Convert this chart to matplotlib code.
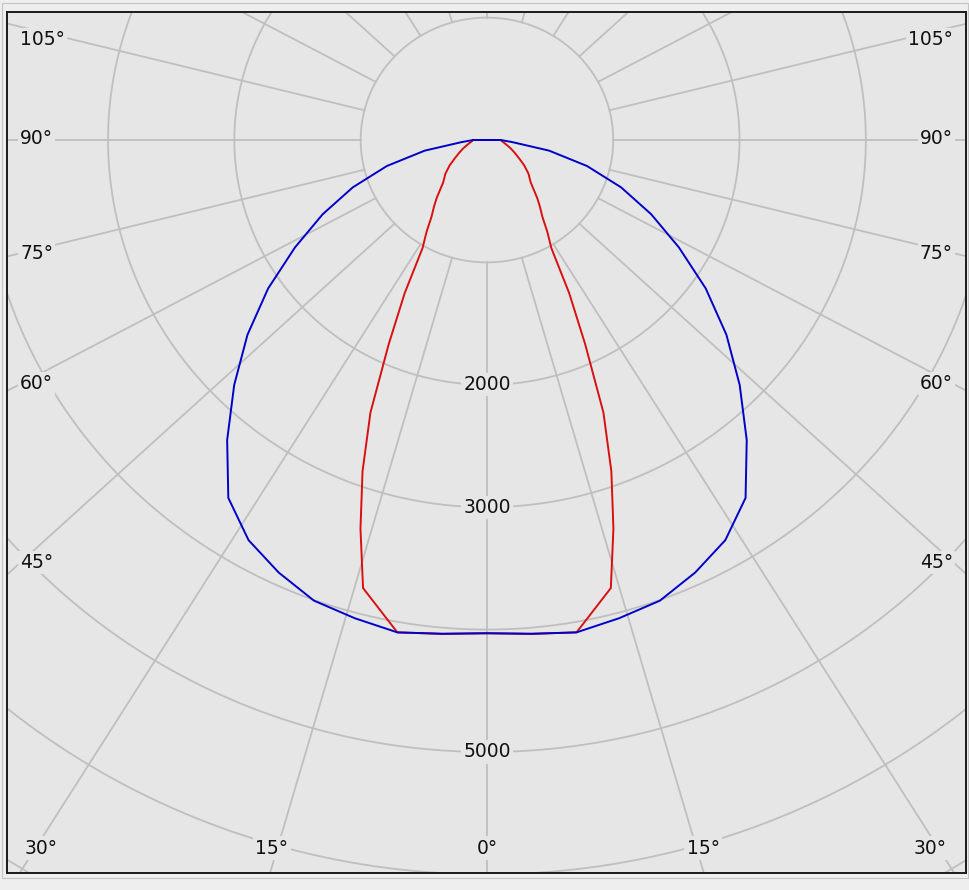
import numpy as np
import matplotlib.pyplot as plt
from matplotlib.patches import Rectangle

# gamma angle (deg from nadir) and luminous intensity (cd)
blue_angle = [0, 5, 10, 15, 20, 25, 30, 35, 40, 45, 50, 55, 60, 65, 70, 75, 80, 85, 90]
blue_cd = [4030, 4050, 4085, 4045, 4005, 3900, 3775, 3570, 3200, 2830, 2475,
           2115, 1755, 1435, 1130, 820, 500, 205, 110]

red_angle = [0, 5, 10, 15, 17.5, 20, 22.5, 25, 27.5, 30, 32.5, 35, 37.5, 40,
             45, 50, 55, 60, 65, 70, 75, 80, 85, 90]
red_cd = [4030, 4050, 4085, 3790, 3330, 2880, 2410, 1840, 1410, 1020, 890, 765,
          690, 620, 490, 430, 360, 290, 240, 200, 165, 140, 120, 110]

ring_values = [1000, 2000, 3000, 4000, 5000, 6000, 7000]
ring_labels = {2000: "2000", 3000: "3000", 5000: "5000"}
spoke_step = 15

# angle labels: (text, x, y, ha) in axes fraction
angle_labels = [
    ("105°", 0.0136, 0.9675, "left"), ("90°", 0.0136, 0.8525, "left"),
    ("75°", 0.0136, 0.720, "left"), ("60°", 0.0136, 0.569, "left"),
    ("45°", 0.0136, 0.361, "left"), ("30°", 0.0188, 0.029, "left"),
    ("15°", 0.2763, 0.029, "center"), ("0°", 0.5005, 0.029, "center"),
    ("15°", 0.7258, 0.029, "center"), ("30°", 0.980, 0.029, "right"),
    ("45°", 0.9864, 0.361, "right"), ("60°", 0.9864, 0.569, "right"),
    ("75°", 0.9864, 0.720, "right"), ("90°", 0.9864, 0.8525, "right"),
    ("105°", 0.9864, 0.9675, "right"),
]

BG = "#e6e6e6"
GRID = "#bfbfbf"
SPOKE_K = 1.07   # spokes in the original fan out a bit wider than the rings


def full_curve(angles, values):
    a = np.array(angles, dtype=float)
    v = np.array(values, dtype=float)
    a = np.concatenate([-a[::-1], a[1:]])
    v = np.concatenate([v[::-1], v[1:]])
    t = np.radians(a)
    x = v * np.sin(t)
    y = -v * np.cos(t)
    return np.append(x, x[0]), np.append(y, y[0])


fig = plt.figure(figsize=(9.69, 8.90), dpi=100, facecolor="#eeeeee")
ax = fig.add_axes([7 / 969, 17 / 890, 959 / 969, 861 / 890])
ax.set_facecolor(BG)
ax.set_xlim(-3800, 3793)
ax.set_ylim(-5989, 1046)
ax.set_xticks([])
ax.set_yticks([])
for s in ax.spines.values():
    s.set_color("#1a1a1a")
    s.set_linewidth(1.4)

# rings
t = np.linspace(0, 2 * np.pi, 721)
for r in ring_values:
    ax.plot(r * np.cos(t), r * np.sin(t), color=GRID, lw=1.3, zorder=1)

# spokes, starting on the inner ring
for a in range(0, 360, spoke_step):
    ar = np.radians(a)
    phi = np.arctan2(SPOKE_K * np.sin(ar), np.cos(ar))
    rr = np.array([ring_values[0], 12000])
    ax.plot(rr * np.sin(phi), -rr * np.cos(phi), color=GRID, lw=1.3, zorder=1)

for r, txt in ring_labels.items():
    ax.text(0, -r, txt, ha="center", va="center", fontsize=13.5, color="#111111",
            bbox=dict(facecolor=BG, edgecolor="none", pad=1.5), zorder=2)

for txt, x, y, ha in angle_labels:
    ax.text(x, y, txt, transform=ax.transAxes, ha=ha, va="center", fontsize=13.5,
            color="#111111", bbox=dict(facecolor=BG, edgecolor="none", pad=1.5),
            zorder=2)

rx, ry = full_curve(red_angle, red_cd)
bx, by = full_curve(blue_angle, blue_cd)
ax.plot(rx, ry, color="#d81010", lw=1.4, zorder=3)
ax.plot(bx, by, color="#0000c8", lw=1.4, zorder=4)

# thin outer frame of the window
fig.patches.append(Rectangle((2 / 969, 12 / 890), 966 / 969, 875 / 890,
                             transform=fig.transFigure, fill=False,
                             edgecolor="#c4c4c4", lw=0.8))

fig.savefig("out.png", dpi=100, facecolor=fig.get_facecolor())
